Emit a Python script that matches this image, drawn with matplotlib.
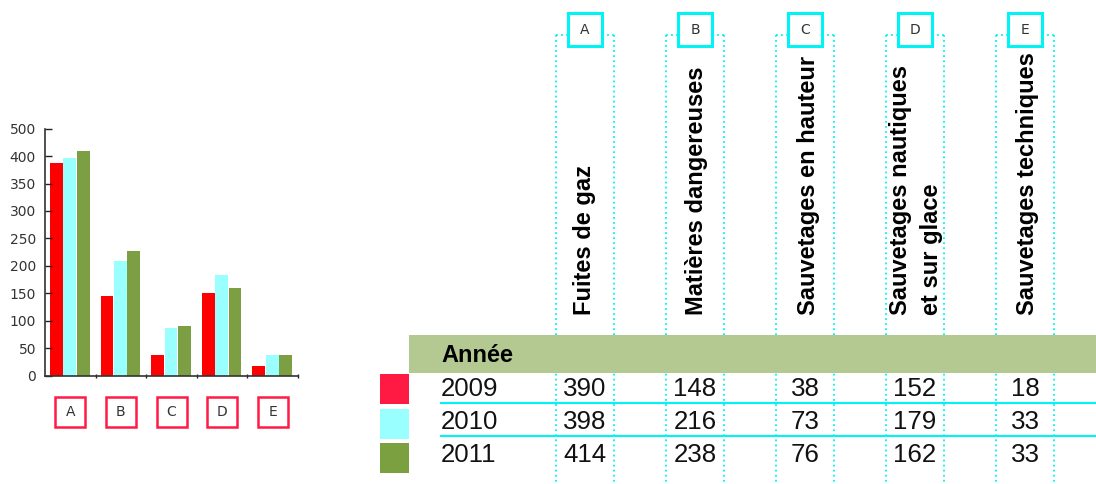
import matplotlib
matplotlib.use("Agg")
import matplotlib.pyplot as plt
from matplotlib.patches import Rectangle
from matplotlib import transforms
import numpy as np

# ---------------- data ----------------
categories = ['A', 'B', 'C', 'D', 'E']
category_names = ['Fuites de gaz', 'Matières dangereuses', 'Sauvetages en hauteur',
                  ['Sauvetages nautiques', 'et sur glace'], 'Sauvetages techniques']
years = ['2009', '2010', '2011']
# values printed in the table
table_2009 = [390, 148, 38, 152, 18]
table_2010 = [398, 216, 73, 179, 33]
table_2011 = [414, 238, 76, 162, 33]
# bar heights as drawn in the small chart
bars_2009 = [387, 146, 38, 150, 18]
bars_2010 = [396, 209, 87, 183, 38]
bars_2011 = [409, 227, 90, 160, 38]
y_ticks = [0, 50, 100, 150, 200, 250, 300, 350, 400, 450]
y_tick_labels = ['0', '50', '100', '150', '200', '250', '300', '350', '400', '500']

bar_colors = ['#FF0000', '#99FFFF', '#7B9F42']
legend_colors = ['#FF1A44', '#99FFFF', '#7AA040']
band_color = '#B3C991'
cyan = '#00F4F4'
box_red = '#FF1B45'

W, H = 1096, 484
fig = plt.figure(figsize=(W / 100, H / 100), dpi=100)

# overlay in pixel coordinates
ov = fig.add_axes([0, 0, 1, 1])
ov.set_xlim(0, W)
ov.set_ylim(H, 0)
ov.axis('off')

# ---------------- bar chart ----------------
ax = fig.add_axes([45 / W, (H - 375.67) / H, 253 / W, (375.67 - 128.6) / H])
ax.set_zorder(2)
ax.patch.set_alpha(0)
x = np.arange(len(categories))
bw = 0.255
step = 0.265
for k, vals in enumerate([bars_2009, bars_2010, bars_2011]):
    ax.bar(x - 0.01 + (k - 1) * step, vals, width=bw, color=bar_colors[k], linewidth=0)
ax.set_xlim(-0.5, len(categories) - 0.5)
ax.set_ylim(0, 450)
ax.set_yticks(y_ticks)
ax.set_yticklabels(y_tick_labels, fontsize=10, color='#333333', family='DejaVu Sans')
ax.set_xticks(np.arange(len(categories)) + 0.5)
ax.set_xticklabels([])
ax.tick_params(axis='y', direction='in', length=5, width=1, color='#222222', pad=6.5)
ax.tick_params(axis='x', direction='inout', length=3, width=1, color='#222222')
for s in ['top', 'right']:
    ax.spines[s].set_visible(False)
for s in ['left', 'bottom']:
    ax.spines[s].set_color('#333333')
    ax.spines[s].set_linewidth(1.2)

# letter boxes under bars
blend = transforms.blended_transform_factory(ax.transData, ov.transData)
box_w = 30 / (253 / 5)
for i, c in enumerate(categories):
    ov.add_patch(Rectangle((i - box_w / 2, 397), box_w, 30, transform=blend,
                           fill=False, edgecolor=box_red, lw=1.8, clip_on=False))
    ov.text(i, 412, c, transform=blend, ha='center', va='center', fontsize=10,
            color='#333333', family='DejaVu Sans')

# ---------------- table ----------------
col_left = [556 + 110 * i for i in range(len(categories))]
col_w = 58
dot_style = dict(color=cyan, lw=1.3, linestyle=(0, (1, 1.8)), zorder=1)
for i, c in enumerate(categories):
    l, r = col_left[i], col_left[i] + col_w
    cx = (l + r) / 2
    ov.plot([l, l], [35, H], **dot_style)
    ov.plot([r, r], [35, H], **dot_style)
    ov.plot([l, cx - 17], [35, 35], **dot_style)
    ov.plot([cx + 17, r], [35, 35], **dot_style)
    ov.add_patch(Rectangle((cx - 17, 12.5), 34, 33.5, fill=True, facecolor='white',
                           edgecolor=cyan, lw=2.2, zorder=3))
    ov.text(cx, 29.5, c, ha='center', va='center', fontsize=10, color='#333333',
            family='DejaVu Sans', zorder=4)

# rotated column headers (baseline x positions)
header_x = [591, 703, 815, [907, 938], 1034]
for i, name in enumerate(category_names):
    names = name if isinstance(name, list) else [name]
    xs = header_x[i] if isinstance(header_x[i], list) else [header_x[i]]
    for nm, hx in zip(names, xs):
        ov.text(hx, 315, nm, rotation=90, rotation_mode='anchor', ha='left',
                va='baseline', fontsize=17.0, fontweight='bold',
                family='Liberation Sans', color='black', zorder=4)

# header band
ov.add_patch(Rectangle((409, 335), W - 409, 37.5, facecolor=band_color,
                       edgecolor='none', zorder=2))
ov.text(441, 361.7, 'Année', ha='left', va='baseline', fontsize=16.9,
        fontweight='bold', family='Liberation Sans', color='black', zorder=4)

# rows
row_base = [395.5, 429, 462.5]
row_vals = [table_2009, table_2010, table_2011]
leg_top = [374, 408.5, 443]
for r, yr in enumerate(years):
    ov.add_patch(Rectangle((380, leg_top[r]), 29, 30, facecolor=legend_colors[r],
                           edgecolor='none', zorder=2))
    ov.text(441, row_base[r], yr, ha='left', va='baseline', fontsize=18.6,
            family='Liberation Sans', color='#111111', zorder=4)
    for i, v in enumerate(row_vals[r]):
        cx = col_left[i] + col_w / 2
        ov.text(cx, row_base[r], str(v), ha='center', va='baseline', fontsize=18.6,
                family='Liberation Sans', color='#111111', zorder=4)

# horizontal cyan rules
for yline in [402.7, 436.2]:
    ov.plot([441, W], [yline, yline], color=cyan, lw=1.5, zorder=2)

fig.savefig('out.png', dpi=100)
